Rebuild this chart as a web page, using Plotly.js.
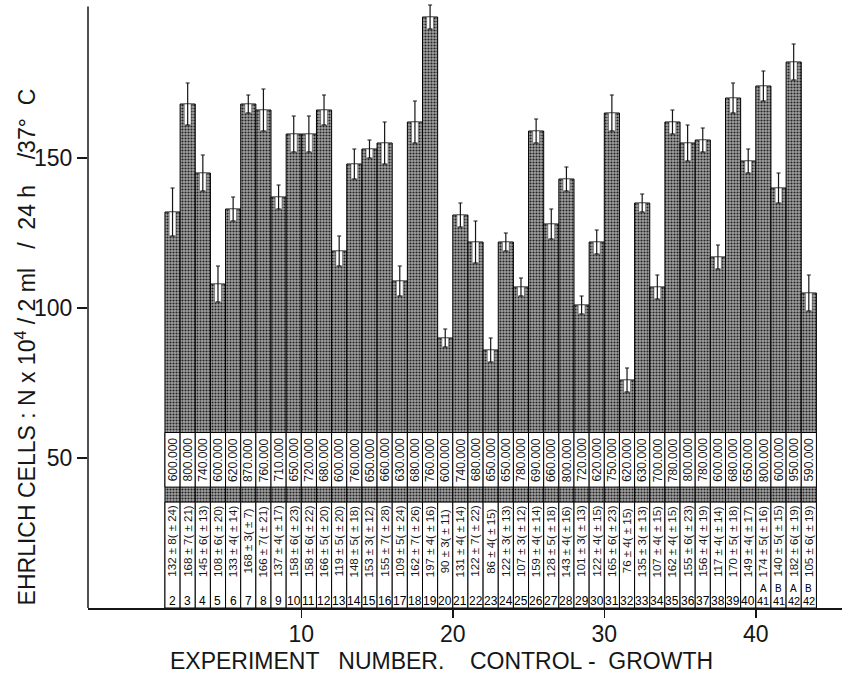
<!DOCTYPE html>
<html><head><meta charset="utf-8">
<script src="https://cdn.plot.ly/plotly-3.0.1.min.js"></script>
<style>html,body{margin:0;padding:0;background:#fff}#chart{width:842px;height:675px}</style>
</head><body><div id="chart"></div>
<script>
// ---- data ----
const expLabels = ['2','3','4','5','6','7','8','9','10','11','12','13','14','15','16','17','18','19','20','21',
  '22','23','24','25','26','27','28','29','30','31','32','33','34','35','36','37','38','39','40','41A','41B','42A','42B'];
const meanCells = [132,168,145,108,133,168,166,137,158,158,166,119,148,153,155,109,162,197,90,131,
  122,86,122,107,159,128,143,101,122,165,76,135,107,162,155,156,117,170,149,174,140,182,105];
const semCells = [8,7,6,6,4,3,7,4,6,6,5,5,5,3,7,5,7,4,3,4,
  7,4,3,3,4,5,4,3,4,6,4,3,4,4,6,4,4,5,4,5,5,6,6];
const sdCells = [24,21,13,20,14,7,21,17,23,22,20,20,18,12,28,24,26,16,11,14,
  22,15,13,12,14,18,16,13,15,23,15,13,15,15,23,19,14,18,17,16,15,19,19];
const inoculumCells = [600000,800000,740000,600000,620000,870000,760000,710000,650000,720000,680000,600000,760000,650000,660000,630000,680000,760000,600000,740000,
  680000,650000,650000,780000,690000,660000,800000,720000,620000,750000,620000,630000,700000,780000,800000,780000,600000,680000,650000,800000,600000,950000,590000];
const xTickVals = [10,20,30,40];
const yTickVals = [50,100,150];
const yTitle = 'EHRLICH CELLS : N x 10<sup>4</sup> / 2 ml   /  24 h    /37°  C';
const xTitle = 'EXPERIMENT   NUMBER.    CONTROL -  GROWTH';

// ---- layout constants (styling) ----
const FONT = 'Liberation Sans, Arial, sans-serif';
const INK = '#161616';
const upperTop = 58.5, upperBottom = 40.3, lowerTop = 35.3;
const xpos = expLabels.map((_, i) => i + 1.5);
const fmt = n => String(n).replace(/\B(?=(\d{3})+(?!\d))/g, '.');

const traces = [
  { type:'bar', x:xpos, y:meanCells, width:1, hoverinfo:'skip',
    marker:{ color:'#6a6a6a', line:{color:'#000', width:1},
      pattern:{shape:'.', fgcolor:'#222', bgcolor:'#a2a2a2', size:3, solidity:0.38} } },
  { type:'bar', x:xpos, y:xpos.map(()=>upperTop-upperBottom), base:xpos.map(()=>upperBottom), width:1, hoverinfo:'skip',
    marker:{ color:'#fff', line:{color:'#000', width:1} } },
  { type:'bar', x:xpos, y:xpos.map(()=>lowerTop), base:xpos.map(()=>0), width:1, hoverinfo:'skip',
    marker:{ color:'#fff', line:{color:'#000', width:1} } },
  { type:'bar', x:xpos, y:semCells, base:meanCells.map((m,i)=>m-semCells[i]), width:0.45, hoverinfo:'skip',
    marker:{ color:'#fff', line:{color:'#555', width:0.6} } },
  { type:'scatter', mode:'markers', x:xpos, y:meanCells, hoverinfo:'skip',
    marker:{size:1, opacity:0},
    error_y:{ type:'data', array:semCells, color:INK, thickness:1.2, width:2 } }
];

const annotations = [];
const cellFont = (size) => ({family:FONT, size:size, color:INK});
expLabels.forEach((lab, i) => {
  annotations.push({ x:xpos[i], y:(upperTop+upperBottom)/2, xref:'x', yref:'y', text:fmt(inoculumCells[i]),
    textangle:-90, showarrow:false, xanchor:'center', yanchor:'middle', font:cellFont(12) });
  annotations.push({ x:xpos[i], y:22.3, xref:'x', yref:'y',
    text:meanCells[i] + ' ± ' + semCells[i] + '( ± ' + sdCells[i] + ')',
    textangle:-90, showarrow:false, xanchor:'center', yanchor:'middle', font:cellFont(11.5) });
  const m = lab.match(/^(\d+)([AB])$/);
  annotations.push({ x:xpos[i], y:2.5, xref:'x', yref:'y', text: m ? m[1] : lab, showarrow:false,
    xanchor:'center', yanchor:'middle', font:{family:FONT, size: m ? 11 : 12, color:'#000'} });
  if (m) {
    annotations.push({ x:xpos[i], y:6.4, xref:'x', yref:'y', text:m[2], showarrow:false,
      xanchor:'center', yanchor:'middle', font:{family:FONT, size:10, color:'#000'} });
  }
});
annotations.push({ xref:'paper', yref:'paper', x:0, xshift:-62, y:0.43, textangle:-90, showarrow:false,
  xanchor:'center', yanchor:'middle', text:yTitle, font:{family:FONT, size:23, color:INK} });
annotations.push({ xref:'paper', yref:'paper', x:0.4688, y:-0.088, showarrow:false, xanchor:'center', yanchor:'middle',
  text:xTitle, font:{family:FONT, size:23, color:INK} });

const layout = {
  width:842, height:675, paper_bgcolor:'#fff', plot_bgcolor:'#fff',
  margin:{l:88, r:0, t:2, b:67, pad:0},
  barmode:'overlay', bargap:0, showlegend:false,
  font:{family:FONT, color:INK},
  xaxis:{ range:[-4.08, 45.69], tickmode:'array', tickvals:xTickVals, ticks:'outside', ticklen:8, tickwidth:1.5,
    tickcolor:INK, showline:true, linecolor:INK, linewidth:1.5, showgrid:false, zeroline:false,
    ticklabelstandoff:-3, tickfont:{family:FONT, size:23, color:INK}, fixedrange:true },
  yaxis:{ range:[0, 202], tickmode:'array', tickvals:yTickVals, ticks:'outside', ticklen:10, tickwidth:1.5,
    tickcolor:INK, showline:false, showgrid:false, zeroline:false,
    tickfont:{family:FONT, size:23, color:INK}, fixedrange:true },
  shapes:[{ type:'line', xref:'paper', x0:0, x1:0, yref:'y', y0:0, y1:200.5, line:{color:INK, width:1.5} }],
  annotations:annotations
};

Plotly.newPlot('chart', traces, layout, {displayModeBar:false, staticPlot:true});
</script></body></html>
